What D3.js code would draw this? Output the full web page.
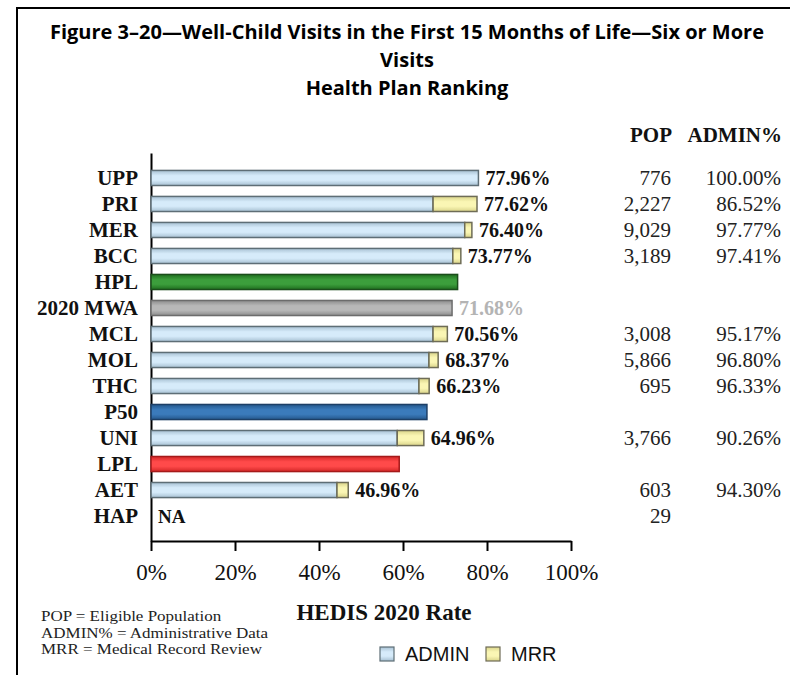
<!DOCTYPE html>
<html>
<head>
<meta charset="utf-8">
<script src="https://cdn.jsdelivr.net/npm/d3@7"></script>
<style>
    body { margin: 0; background: #fff; }
</style>
</head>
<body>
<div id="chart"></div>
<script>
// chart values
let plans = ['UPP', 'PRI', 'MER', 'BCC', 'HPL', '2020 MWA', 'MCL', 'MOL', 'THC', 'P50', 'UNI', 'LPL', 'AET', 'HAP'];
let adminRates = [77.96, 67.16, 74.70, 71.86, 73.0, 71.68, 67.15, 66.18, 63.80, 65.7, 58.63, 59.1, 44.28, null];
let mrrRates = [0, 10.46, 1.70, 1.91, 0, 0, 3.41, 2.19, 2.43, 0, 6.33, 0, 2.68, null];
let rateLabels = ['77.96%', '77.62%', '76.40%', '73.77%', '', '71.68%', '70.56%', '68.37%', '66.23%', '', '64.96%', '', '46.96%', 'NA'];
let popValues = ['776', '2,227', '9,029', '3,189', '', '', '3,008', '5,866', '695', '', '3,766', '', '603', '29'];
let adminPct = ['100.00%', '86.52%', '97.77%', '97.41%', '', '', '95.17%', '96.80%', '96.33%', '', '90.26%', '', '94.30%', ''];
let barKinds = ['plan', 'plan', 'plan', 'plan', 'hpl', 'mwa', 'plan', 'plan', 'plan', 'p50', 'plan', 'lpl', 'plan', 'na'];
let xTicks = [0, 20, 40, 60, 80, 100];
let titleLines = ['Figure 3\u201320\u2014Well-Child Visits in the First 15 Months of Life\u2014Six or More', 'Visits', 'Health Plan Ranking'];
let notes = ['POP = Eligible Population', 'ADMIN% = Administrative Data', 'MRR = Medical Record Review'];
let legendKeys = ['ADMIN', 'MRR'];

let serif = "'Liberation Serif', 'Times New Roman', serif";

// [edge, middle, stroke]
let palette = {
    admin: ['#a7c0d2', '#d6ebfa', '#5e6e76'],
    mrr: ['#d9d48a', '#faf6b4', '#6e6c56'],
    hpl: ['#1f6e1f', '#3c9e3c', '#1b4d1b'],
    mwa: ['#8c8c8c', '#b8b8b8', '#6c6c6c'],
    p50: ['#24578c', '#3b7bbb', '#1d3f66'],
    lpl: ['#d42828', '#ff4a4a', '#a51a1a']
};

let width = 790, height = 675;
let svg = d3.select('#chart')
    .append('svg')
    .attr('width', width)
    .attr('height', height);

// gradients for the 3d-ish bars
let defs = svg.append('defs');
Object.keys(palette).forEach(function (k) {
    let g = defs.append('linearGradient')
        .attr('id', 'grad-' + k)
        .attr('x1', 0).attr('y1', 0).attr('x2', 0).attr('y2', 1);
    g.append('stop').attr('offset', '0%').attr('stop-color', palette[k][0]);
    g.append('stop').attr('offset', '35%').attr('stop-color', palette[k][1]);
    g.append('stop').attr('offset', '65%').attr('stop-color', palette[k][1]);
    g.append('stop').attr('offset', '100%').attr('stop-color', palette[k][0]);
});

// frame (left + top edge)
svg.append('path')
    .attr('d', 'M17,675 L17,8 L790,8')
    .attr('fill', 'none')
    .attr('stroke', '#000')
    .attr('stroke-width', 2);

// title - squeeze every line by the same ratio so the wide font looks closer to Calibri
let titles = svg.selectAll('.title')
    .data(titleLines)
    .enter().append('text')
    .attr('class', 'title')
    .attr('x', 407)
    .attr('y', (d, i) => 39 + i * 28)
    .attr('text-anchor', 'middle')
    .style('font-family', "'Open Sans', sans-serif")
    .style('font-weight', 'bold')
    .style('font-size', '20px')
    .text(d => d);
let squeeze = 714 / titles.nodes()[0].getComputedTextLength();
titles.each(function () {
    let w = this.getComputedTextLength() * squeeze;
    d3.select(this).attr('textLength', w).attr('lengthAdjust', 'spacingAndGlyphs');
});

let x = d3.scaleLinear()
    .domain([0, 100])
    .range([151, 571]);

let y = d3.scaleBand()
    .domain(plans)
    .range([153, 541])
    .paddingInner(0.42)
    .paddingOuter(0.67);

// x axis
let xAxis = d3.axisBottom(x)
    .tickValues(xTicks)
    .tickFormat(d => d + '%')
    .tickSize(10)
    .tickSizeOuter(0)
    .tickPadding(13);

let gx = svg.append('g')
    .attr('transform', 'translate(0,541)')
    .call(xAxis);
gx.select('.domain').attr('stroke-width', 2);
gx.selectAll('.tick line').attr('stroke-width', 2);
gx.selectAll('.tick text')
    .style('font-family', serif)
    .style('font-size', '23px')
    .attr('fill', '#111');

// y axis (category names)
let yAxis = d3.axisLeft(y)
    .tickSize(0)
    .tickSizeOuter(0)
    .tickPadding(13);

let gy = svg.append('g')
    .attr('transform', 'translate(151,0)')
    .call(yAxis);
gy.select('.domain').attr('stroke-width', 2);
gy.selectAll('.tick text')
    .style('font-family', serif)
    .style('font-weight', 'bold')
    .style('font-size', '21px')
    .attr('fill', '#111');

// bars
let rows = plans.map(function (p, i) {
    return {plan: p, admin: adminRates[i], mrr: mrrRates[i], kind: barKinds[i], label: rateLabels[i], pop: popValues[i], pct: adminPct[i]};
});

let segs = [];
rows.forEach(function (d) {
    if (d.admin == null) return;
    let k = d.kind == 'plan' ? 'admin' : d.kind;
    segs.push({plan: d.plan, x0: 0, x1: d.admin, key: k});
    if (d.mrr > 0) segs.push({plan: d.plan, x0: d.admin, x1: d.admin + d.mrr, key: 'mrr'});
});

svg.append('g')
    .selectAll('rect')
    .data(segs)
    .enter().append('rect')
    .attr('x', d => x(d.x0))
    .attr('y', d => y(d.plan))
    .attr('width', d => x(d.x1) - x(d.x0))
    .attr('height', y.bandwidth())
    .attr('fill', d => 'url(#grad-' + d.key + ')')
    .attr('stroke', d => palette[d.key][2])
    .attr('stroke-width', 1.5);

// rate labels
svg.append('g')
    .selectAll('text')
    .data(rows.filter(d => d.label != ''))
    .enter().append('text')
    .attr('x', d => d.admin == null ? x(0) + 7 : x(d.admin + d.mrr) + 7)
    .attr('y', d => y(d.plan) + y.bandwidth() / 2)
    .attr('dy', '0.35em')
    .style('font-family', serif)
    .style('font-weight', 'bold')
    .style('font-size', d => d.admin == null ? '19px' : '20px')
    .attr('fill', d => d.kind == 'mwa' ? '#b4b4b4' : '#111')
    .text(d => d.label);

// POP / ADMIN% columns
let cols = [
    {head: 'POP', key: 'pop', right: 672},
    {head: 'ADMIN%', key: 'pct', right: 782}
];
cols.forEach(function (c) {
    svg.append('text')
        .attr('x', c.right)
        .attr('y', 142)
        .attr('text-anchor', 'end')
        .style('font-family', serif)
        .style('font-weight', 'bold')
        .style('font-size', '21px')
        .attr('fill', '#111')
        .text(c.head);

    svg.append('g')
        .selectAll('text')
        .data(rows.filter(d => d[c.key] != ''))
        .enter().append('text')
        .attr('x', c.right - 1)
        .attr('y', d => y(d.plan) + y.bandwidth() / 2)
        .attr('dy', '0.35em')
        .attr('text-anchor', 'end')
        .style('font-family', serif)
        .style('font-size', '21px')
        .attr('fill', '#222')
        .text(d => d[c.key]);
});

// axis title
svg.append('text')
    .attr('x', 384)
    .attr('y', 620)
    .attr('text-anchor', 'middle')
    .style('font-family', serif)
    .style('font-weight', 'bold')
    .style('font-size', '23px')
    .attr('fill', '#111')
    .text('HEDIS 2020 Rate');

// footnotes (squeezed a little vertically, like the original)
svg.append('g')
    .selectAll('text')
    .data(notes)
    .enter().append('text')
    .attr('transform', (d, i) => 'translate(41,' + (621 + i * 16.5) + ') scale(1,0.88)')
    .style('font-family', serif)
    .style('font-size', '17px')
    .attr('fill', '#222')
    .text(d => d);

// legend
let legend = svg.append('g')
    .selectAll('g')
    .data(legendKeys)
    .enter().append('g')
    .attr('transform', (d, i) => 'translate(' + [380, 486][i] + ',647)');
legend.append('rect')
    .attr('width', 14)
    .attr('height', 14)
    .attr('fill', d => 'url(#grad-' + d.toLowerCase() + ')')
    .attr('stroke', d => palette[d.toLowerCase()][2])
    .attr('stroke-width', 1.2);
legend.append('text')
    .attr('x', 25)
    .attr('y', 14)
    .style('font-family', "'Liberation Sans', Arial, sans-serif")
    .style('font-size', '20px')
    .attr('fill', '#111')
    .text(d => d);
</script>
</body>
</html>
